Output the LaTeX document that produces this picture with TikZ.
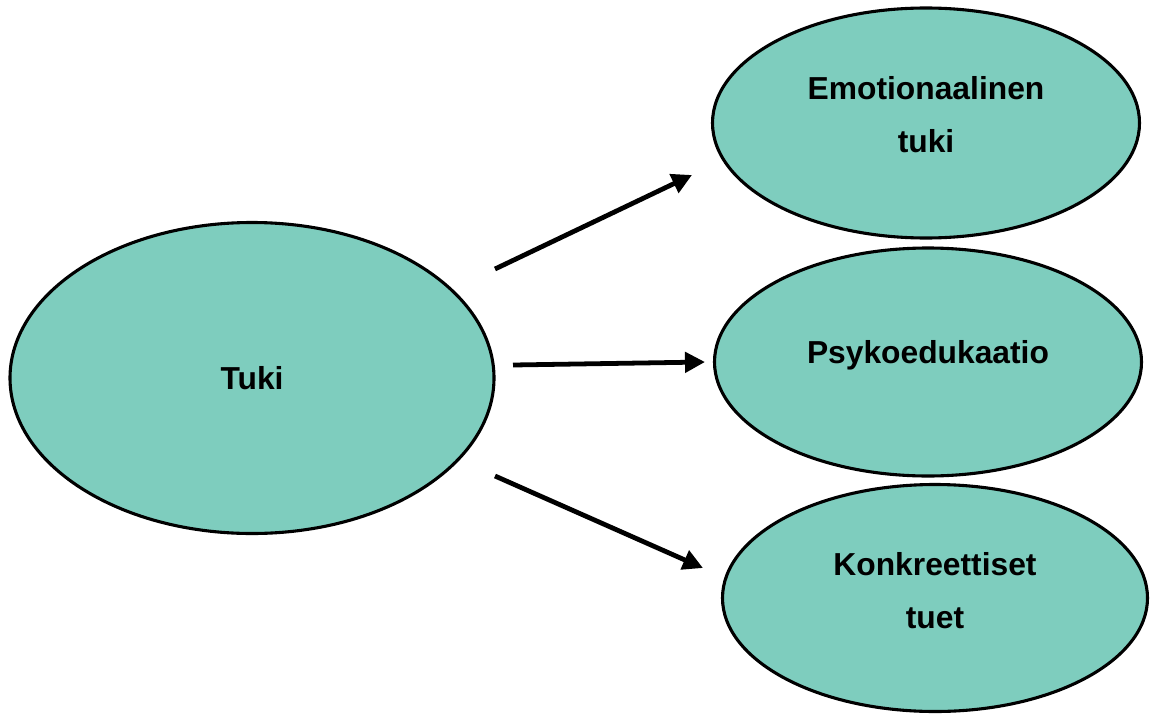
\documentclass[tikz,border=0pt]{standalone}
\usepackage{fontspec}
\setmainfont{Liberation Sans}
\definecolor{tukiteal}{RGB}{126,205,190}
\usepackage{tikz}
\usetikzlibrary{arrows.meta,positioning,shapes.geometric}

\begin{document}
\begin{tikzpicture}[x=0.025cm,y=-0.025cm,
  every node/.style={font=\bfseries\fontsize{22.6}{37.6}\selectfont,align=center},
  blob/.style={ellipse,draw=black,fill=tukiteal,line width=2.2pt,inner sep=0pt},
  arr/.style={line width=3.4pt,-{Triangle[length=0.5cm,width=0.5cm]}}]
  \useasboundingbox (0,0) rectangle (1155,716);
  % Ellipses
  \node[blob,minimum width=484*0.025cm,minimum height=311*0.025cm] (tuki) at (252,378) {};
  \node at (252,378) {Tuki};
  \node[blob,minimum width=427*0.025cm,minimum height=230*0.025cm] (emo) at (926,123) {};
  \node at (926,115) {Emotionaalinen\\tuki};
  \node[blob,minimum width=427*0.025cm,minimum height=228*0.025cm] (psyko) at (928,362) {};
  \node at (928,355) {Psykoedukaatio};
  \node[blob,minimum width=425*0.025cm,minimum height=227*0.025cm] (konk) at (935,598) {};
  \node at (935,591) {Konkreettiset\\tuet};
  % Arrows
  \coordinate (a1) at (495,269);
  \coordinate (b1) at (692,175);
  \coordinate (a2) at (513,365);
  \coordinate (b2) at (705,362);
  \coordinate (a3) at (495,476);
  \coordinate (b3) at (703,568);
  \draw[arr] (a1) -- (b1);
  \draw[arr] (a2) -- (b2);
  \draw[arr] (a3) -- (b3);
\end{tikzpicture}
\end{document}
